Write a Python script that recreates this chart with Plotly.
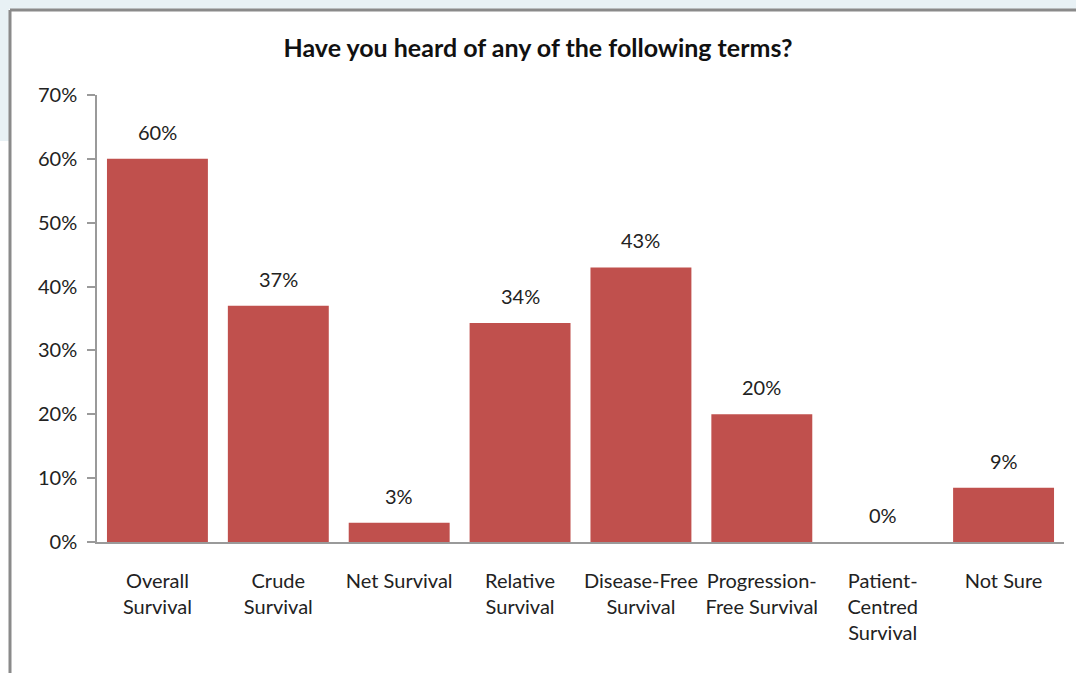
import plotly.graph_objects as go

categories = ["Overall<br>Survival", "Crude<br>Survival", "Net Survival", "Relative<br>Survival",
              "Disease-Free<br>Survival", "Progression-<br>Free Survival", "Patient-<br>Centred<br>Survival",
              "Not Sure"]
values = [60, 37, 3, 34.3, 43, 20, 0, 8.5]
value_labels = ["60%", "37%", "3%", "34%", "43%", "20%", "0%", "9%"]
y_ticks = [0, 10, 20, 30, 40, 50, 60, 70]
y_tick_text = ["0%", "10%", "20%", "30%", "40%", "50%", "60%", "70%"]

W, H = 1076, 673
L, R, T, B = 97, 12, 95, 131
FONT = "Lato, 'Noto Sans', sans-serif"

fig = go.Figure()
fig.add_trace(go.Bar(
    x=categories, y=values,
    marker=dict(color="#C0504D", line=dict(width=0)),
    hoverinfo="skip",
))

for c, v, t in zip(categories, values, value_labels):
    fig.add_annotation(x=c, y=v, xref="x", yref="y", text=t, showarrow=False,
                       yanchor="bottom", yshift=13,
                       font=dict(family=FONT, size=20, color="#222222"))

pw = W - L - R
ph = H - T - B
def px(xp):
    return (xp - L) / pw
def py(yp):
    return (H - B - yp) / ph

shapes = [
    dict(type="rect", xref="paper", yref="paper", x0=px(0), x1=px(W), y0=py(9), y1=py(0),
         fillcolor="#E8F1F5", line=dict(width=0), layer="below"),
    dict(type="rect", xref="paper", yref="paper", x0=px(0), x1=px(9), y0=py(141), y1=py(0),
         fillcolor="#E8F1F5", line=dict(width=0), layer="below"),
    dict(type="line", xref="paper", yref="paper", x0=px(10), x1=px(W + 5), y0=py(10), y1=py(10),
         line=dict(color="#8A8A8A", width=3)),
    dict(type="line", xref="paper", yref="paper", x0=px(10), x1=px(10), y0=py(10), y1=py(H + 5),
         line=dict(color="#8A8A8A", width=3)),
]

fig.update_layout(
    width=W, height=H,
    margin=dict(l=L, r=R, t=T, b=B, autoexpand=False),
    paper_bgcolor="white", plot_bgcolor="white",
    showlegend=False,
    bargap=0.165,
    shapes=shapes,
    title=dict(text="<b>Have you heard of any of the following terms?</b>",
               x=0.5, xref="container", xanchor="center",
               y=1 - 48 / H, yref="container", yanchor="middle",
               font=dict(family=FONT, size=25, color="#111111")),
    font=dict(family=FONT, size=20, color="#222222"),
)

fig.update_yaxes(range=[0, 70], tickvals=y_ticks, ticktext=y_tick_text,
                 showgrid=False, zeroline=False,
                 showline=True, linecolor="#9A9A9A", linewidth=1.5,
                 ticks="outside", ticklen=8, tickcolor="#9A9A9A", tickwidth=1.5,
                 ticklabelstandoff=6,
                 tickfont=dict(family=FONT, size=20, color="#222222"))
fig.update_xaxes(showgrid=False, showline=True, linecolor="#9A9A9A", linewidth=1.5,
                 ticks="", ticklabelstandoff=20, tickangle=0,
                 tickfont=dict(family=FONT, size=20, color="#222222"))

fig.write_html("out.html", config={"displayModeBar": False},
               post_script="document.body.style.margin='0';")
